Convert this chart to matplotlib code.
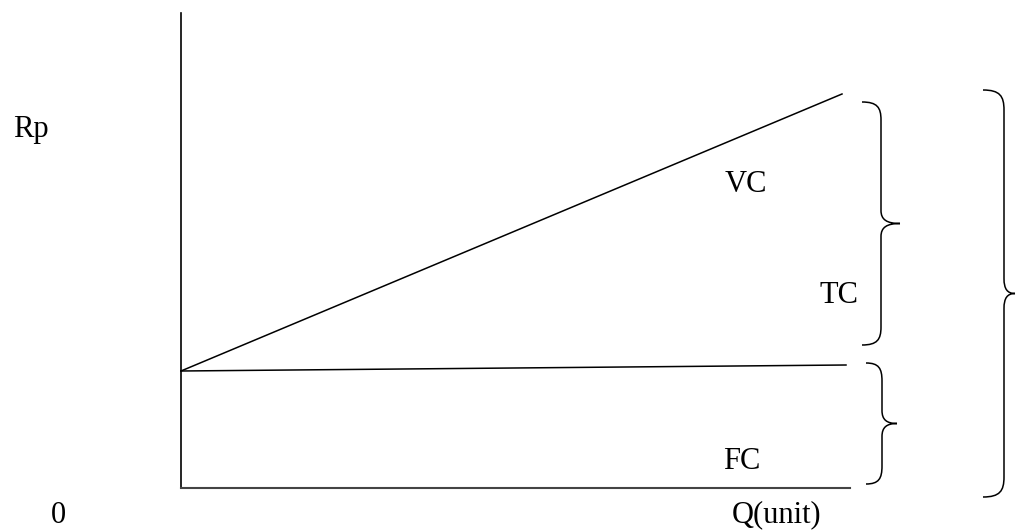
import matplotlib
matplotlib.use("Agg")
import matplotlib.pyplot as plt
from matplotlib.path import Path
from matplotlib.patches import PathPatch

# data (units: pixels from the origin of the sketch)
q_fc = [0, 665]
fc = [117, 123]
q_tc = [0, 661]
tc = [117, 394]
q_axis_end = 669
y_axis_top = 475

labels = {"Rp": (-168, 351), "VC": (544, 296), "TC": (639, 185),
          "FC": (542, 19), "Q(unit)": (551, -34), "0": (-130, -35)}


def brace(ax, x0, x1, x2, ytop, ybot, r=18, r2=13):
    ymid = (ytop + ybot) / 2
    k = x0 + 0.8 * (x1 - x0)
    t = x1 + 0.3 * (x2 - x1)
    verts = [(x0, ytop), (k, ytop), (x1, ytop - 0.3 * r), (x1, ytop - r),
             (x1, ymid + r2),
             (x1, ymid + 0.3 * r2), (t, ymid), (x2, ymid),
             (t, ymid), (x1, ymid - 0.3 * r2), (x1, ymid - r2),
             (x1, ybot + r),
             (x1, ybot + 0.3 * r), (k, ybot), (x0, ybot)]
    codes = [Path.MOVETO, Path.CURVE4, Path.CURVE4, Path.CURVE4,
             Path.LINETO,
             Path.CURVE4, Path.CURVE4, Path.CURVE4,
             Path.CURVE4, Path.CURVE4, Path.CURVE4,
             Path.LINETO,
             Path.CURVE4, Path.CURVE4, Path.CURVE4]
    ax.add_patch(PathPatch(Path(verts, codes), fill=False, lw=1.1, color="black"))


fig = plt.figure(figsize=(10.16, 5.30), dpi=100)
ax = fig.add_axes([0, 0, 1, 1])
ax.set_xlim(-181, 1016 - 181)
ax.set_ylim(488 - 530, 488)
ax.axis("off")

# axes
ax.plot([0, 0], [0, y_axis_top], color="black", lw=1.2)
ax.plot([0, q_axis_end], [0, 0], color="#444444", lw=1.5)

# cost lines
ax.plot(q_fc, fc, color="black", lw=1.1)
ax.plot(q_tc, tc, color="black", lw=1.1)

# braces
brace(ax, 681, 700, 719, tc[1] - 8, fc[1] + 20)
brace(ax, 685, 701, 716, fc[1] + 2, 4)
brace(ax, 802, 823, 834, tc[1] + 4, -9, r=20, r2=15)

for txt, (x, y) in labels.items():
    ax.text(x, y, txt, family="Liberation Serif", fontsize=22,
            ha="left", va="baseline")

fig.savefig("out.png", dpi=100)
